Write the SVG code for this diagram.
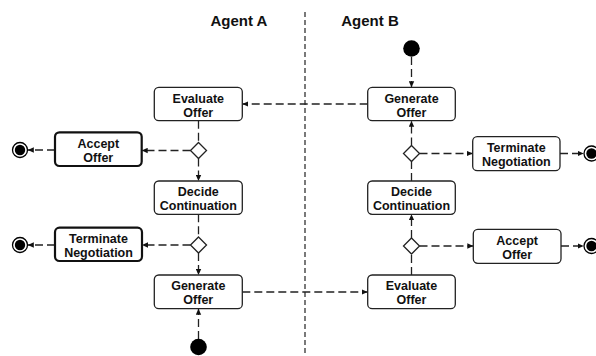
<svg xmlns="http://www.w3.org/2000/svg" width="596" height="356" viewBox="0 0 596 356">
  <defs>
    <marker id="arrow" markerUnits="userSpaceOnUse" markerWidth="7" markerHeight="6" refX="6" refY="3" orient="auto">
      <path d="M0,0.3 L6,3 L0,5.7 Z" fill="#111"/>
    </marker>
    <style>
      .node rect { fill: #fff; stroke: #222; stroke-width: 1.3; }
      .node.bold rect { stroke: #111; stroke-width: 2.2; }
      .node text { font-family: "Liberation Sans", Arial, sans-serif; font-weight: bold; font-size: 12.5px; fill: #111; text-anchor: middle; }
      .diamond polygon { fill: #fff; stroke: #222; stroke-width: 1.3; }
      .start circle { fill: #000; }
      .final .ring { fill: #fff; stroke: #000; stroke-width: 1.3; }
      .final .dot { fill: #000; }
      .lane text { font-family: "Liberation Sans", Arial, sans-serif; font-weight: bold; font-size: 15px; fill: #111; text-anchor: middle; }
      .edges path { fill: none; stroke: #222; stroke-width: 1.3; stroke-dasharray: 8 4; }
      .edges path.arrow { marker-end: url(#arrow); }
      .divider { stroke: #222; stroke-width: 1.2; stroke-dasharray: 5 3; }
    </style>
  </defs>
  <rect width="596" height="356" fill="#fff"/>

  <!-- swimlanes -->
  <g class="lane">
    <line class="divider" x1="305" y1="12" x2="305" y2="356"/>
    <text x="239" y="26">Agent A</text>
    <text x="370" y="26">Agent B</text>
  </g>

  <!-- connectors -->
  <g class="edges">
    <!-- Agent B start -> Generate Offer -->
    <path class="arrow" d="M411.5,57 L411.5,87.3"/>
    <!-- Generate Offer (B) -> Evaluate Offer (A) -->
    <path class="arrow" d="M367.7,104 L242.3,104"/>
    <!-- Evaluate Offer (A) -> decision -->
    <path d="M198.5,120.7 L198.5,142.5"/>
    <!-- decision -> Accept Offer (A) -->
    <path class="arrow" d="M190.5,150.5 L141.7,150.5"/>
    <!-- Accept Offer (A) -> final -->
    <path class="arrow" d="M55,150 L27.8,150"/>
    <!-- decision -> Decide Continuation (A) -->
    <path class="arrow" d="M198.5,158.5 L198.5,181"/>
    <!-- Decide Continuation (A) -> decision -->
    <path d="M198.5,214.3 L198.5,237"/>
    <!-- decision -> Terminate Negotiation (A) -->
    <path class="arrow" d="M190.5,245 L142,245"/>
    <!-- Terminate Negotiation (A) -> final -->
    <path class="arrow" d="M55,245 L27.8,245"/>
    <!-- decision -> Generate Offer (A) -->
    <path class="arrow" d="M198.5,253 L198.5,275"/>
    <!-- Agent A start -> Generate Offer (A) -->
    <path class="arrow" d="M198.5,339 L198.5,308.7"/>
    <!-- Generate Offer (A) -> Evaluate Offer (B) -->
    <path class="arrow" d="M242.3,292 L367.7,292"/>
    <!-- Evaluate Offer (B) -> decision -->
    <path d="M411.5,275 L411.5,254"/>
    <!-- decision -> Decide Continuation (B) -->
    <path class="arrow" d="M411.5,238 L411.5,214.3"/>
    <!-- decision -> Accept Offer (B) -->
    <path class="arrow" d="M419.5,246 L473.3,246"/>
    <!-- Accept Offer (B) -> final -->
    <path class="arrow" d="M561,246 L583.7,246"/>
    <!-- Decide Continuation (B) -> decision -->
    <path d="M411.5,181 L411.5,161.5"/>
    <!-- decision -> Generate Offer (B) -->
    <path class="arrow" d="M411.5,145.5 L411.5,120.7"/>
    <!-- decision -> Terminate Negotiation (B) -->
    <path class="arrow" d="M419.5,153.5 L472.7,153.5"/>
    <!-- Terminate Negotiation (B) -> final -->
    <path class="arrow" d="M560,153.5 L583.7,153.5"/>
  </g>

  <!-- Agent A -->
  <g id="evaluate-offer-a" class="node">
    <rect x="154.3" y="87.3" width="88" height="33.4" rx="4.5"/>
    <text x="198.3" y="102.5">Evaluate</text>
    <text x="198.3" y="116.5">Offer</text>
  </g>
  <g id="decision-a1" class="diamond">
    <polygon points="198.5,142.5 206.5,150.5 198.5,158.5 190.5,150.5"/>
  </g>
  <g id="accept-offer-a" class="node bold">
    <rect x="55" y="132.3" width="86.7" height="33.7" rx="4.5"/>
    <text x="98.3" y="147.5">Accept</text>
    <text x="98.3" y="161.5">Offer</text>
  </g>
  <g id="final-a1" class="final">
    <circle class="ring" cx="20" cy="150" r="7.5"/>
    <circle class="dot" cx="20" cy="150" r="5.2"/>
  </g>
  <g id="decide-continuation-a" class="node">
    <rect x="154.3" y="181" width="88" height="33.3" rx="4.5"/>
    <text x="198.3" y="196.2">Decide</text>
    <text x="198.3" y="210.2">Continuation</text>
  </g>
  <g id="decision-a2" class="diamond">
    <polygon points="198.5,237 206.5,245 198.5,253 190.5,245"/>
  </g>
  <g id="terminate-negotiation-a" class="node bold">
    <rect x="55" y="227.7" width="87" height="33.3" rx="4.5"/>
    <text x="98.5" y="242.8">Terminate</text>
    <text x="98.5" y="256.8">Negotiation</text>
  </g>
  <g id="final-a2" class="final">
    <circle class="ring" cx="20" cy="245" r="7.5"/>
    <circle class="dot" cx="20" cy="245" r="5.2"/>
  </g>
  <g id="generate-offer-a" class="node">
    <rect x="154.3" y="275" width="88" height="33.7" rx="4.5"/>
    <text x="198.3" y="290.3">Generate</text>
    <text x="198.3" y="304.3">Offer</text>
  </g>
  <g id="start-a" class="start">
    <circle cx="198.5" cy="347" r="8.3"/>
  </g>

  <!-- Agent B -->
  <g id="start-b" class="start">
    <circle cx="411.5" cy="48.5" r="8.3"/>
  </g>
  <g id="generate-offer-b" class="node">
    <rect x="367.7" y="87.3" width="87.6" height="33.4" rx="4.5"/>
    <text x="411.5" y="102.5">Generate</text>
    <text x="411.5" y="116.5">Offer</text>
  </g>
  <g id="decision-b1" class="diamond">
    <polygon points="411.5,145.5 419.5,153.5 411.5,161.5 403.5,153.5"/>
  </g>
  <g id="terminate-negotiation-b" class="node">
    <rect x="472.7" y="136.7" width="87.3" height="34" rx="4.5"/>
    <text x="516.3" y="152">Terminate</text>
    <text x="516.3" y="166">Negotiation</text>
  </g>
  <g id="final-b1" class="final">
    <circle class="ring" cx="591.5" cy="153.5" r="7.5"/>
    <circle class="dot" cx="591.5" cy="153.5" r="5.2"/>
  </g>
  <g id="decide-continuation-b" class="node">
    <rect x="367.7" y="181" width="87.6" height="33.3" rx="4.5"/>
    <text x="411.5" y="196.2">Decide</text>
    <text x="411.5" y="210.2">Continuation</text>
  </g>
  <g id="decision-b2" class="diamond">
    <polygon points="411.5,238 419.5,246 411.5,254 403.5,246"/>
  </g>
  <g id="accept-offer-b" class="node">
    <rect x="473.3" y="229.3" width="87.7" height="34" rx="4.5"/>
    <text x="517.2" y="244.5">Accept</text>
    <text x="517.2" y="258.5">Offer</text>
  </g>
  <g id="final-b2" class="final">
    <circle class="ring" cx="591.5" cy="246" r="7.5"/>
    <circle class="dot" cx="591.5" cy="246" r="5.2"/>
  </g>
  <g id="evaluate-offer-b" class="node">
    <rect x="367.7" y="275" width="87.6" height="33.7" rx="4.5"/>
    <text x="411.5" y="290.3">Evaluate</text>
    <text x="411.5" y="304.3">Offer</text>
  </g>
</svg>
